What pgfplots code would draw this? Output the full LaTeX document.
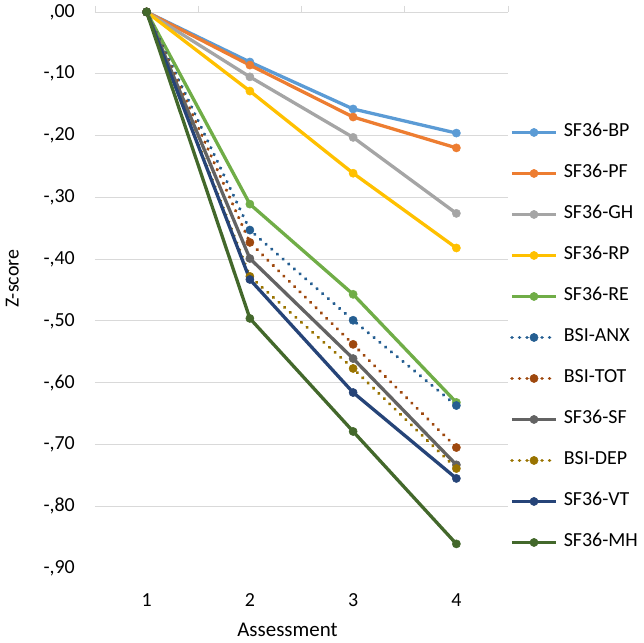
\documentclass[border=0pt]{standalone}
\usepackage{pgfplots}
\pgfplotsset{compat=1.18}
\usepackage{fontspec}
\setmainfont{Carlito}
\definecolor{gridc}{HTML}{D9D9D9}
\definecolor{cBP}{HTML}{5B9BD5}
\definecolor{cPF}{HTML}{ED7D31}
\definecolor{cGH}{HTML}{A5A5A5}
\definecolor{cRP}{HTML}{FFC000}
\definecolor{cRE}{HTML}{70AD47}
\definecolor{cANX}{HTML}{255E91}
\definecolor{cTOT}{HTML}{9E480E}
\definecolor{cSF}{HTML}{636363}
\definecolor{cDEP}{HTML}{997300}
\definecolor{cVT}{HTML}{264478}
\definecolor{cMH}{HTML}{43682B}
\newcommand{\ff}{\fontsize{20}{24}\selectfont}
\newcommand{\fl}{\fontsize{21}{25}\selectfont}
\pgfplotsset{
  ser/.style={color=#1, line width=3.3bp, mark=*, mark size=4.1bp, mark options={solid, fill=#1, draw=#1, line width=0.5bp}},
  dot/.style={ser=#1, dash pattern=on 0.01bp off 7.5bp, line cap=round, line width=3.6bp},
}
\begin{document}
\begin{tikzpicture}
\begin{axis}[
  name=ax,
  scale only axis, width=413bp, height=556bp,
  xmin=0.5, xmax=4.5, ymin=-0.9, ymax=0,
  clip=false,
  axis line style={draw=none},
  xtick={1,2,3,4}, xticklabels={1,2,3,4},
  minor xtick={0.5,1.5,2.5,3.5,4.5},
  xtick pos=upper, xticklabel pos=lower, xtick align=outside,
  major x tick style={draw=none},
  minor x tick style={draw=gridc, line width=0.8bp},
  minor tick length=6bp,
  xticklabel style={font=\ff, inner sep=0pt, yshift=-21bp},
  ytick={-0.9,-0.8,-0.7,-0.6,-0.5,-0.4,-0.3,-0.2,-0.1,0},
  yticklabels={-{,}90,-{,}80,-{,}70,-{,}60,-{,}50,-{,}40,-{,}30,-{,}20,-{,}10,{,}00},
  ytick style={draw=none},
  yticklabel style={font=\ff, inner sep=0pt, xshift=-20bp},
  grid=none,
  every axis y label/.style={at={(rel axis cs:-0.2,0.52)}, anchor=center, rotate=90, font=\ff},
  every axis x label/.style={at={(rel axis cs:0.466,-0.1115)}, anchor=center, font=\fl},
  xlabel={Assessment}, ylabel={Z-score},
  legend style={at={(1,0.4146)}, anchor=west, xshift=2bp, draw=none, fill=none, font=\ff,
    inner sep=0pt, row sep=20bp, column sep=4bp,
    nodes={inner sep=2bp, text height=13bp, text depth=4bp}},
  legend cell align=left,
  legend image code/.code={\draw[#1, mark repeat=2, mark phase=2] plot coordinates {(0bp,0bp) (22bp,0bp) (44bp,0bp)};},
]
\pgfplotsinvokeforeach{-0.8,-0.7,-0.6,-0.5,-0.4,-0.3,-0.2,-0.1,0}{
  \draw[gridc, line width=0.8bp] (axis cs:0.5,#1) -- (axis cs:4.5,#1);
}
\addplot[ser=cBP] coordinates {(1,0) (2,-0.081) (3,-0.157) (4,-0.196)};
\addlegendentry{SF36-BP}
\addplot[ser=cPF] coordinates {(1,0) (2,-0.086) (3,-0.170) (4,-0.220)};
\addlegendentry{SF36-PF}
\addplot[ser=cGH] coordinates {(1,0) (2,-0.105) (3,-0.203) (4,-0.326)};
\addlegendentry{SF36-GH}
\addplot[ser=cRP] coordinates {(1,0) (2,-0.128) (3,-0.261) (4,-0.382)};
\addlegendentry{SF36-RP}
\addplot[ser=cRE] coordinates {(1,0) (2,-0.311) (3,-0.457) (4,-0.632)};
\addlegendentry{SF36-RE}
\addplot[dot=cANX] coordinates {(1,0) (2,-0.353) (3,-0.499) (4,-0.637)};
\addlegendentry{BSI-ANX}
\addplot[dot=cTOT] coordinates {(1,0) (2,-0.373) (3,-0.538) (4,-0.705)};
\addlegendentry{BSI-TOT}
\addplot[ser=cSF] coordinates {(1,0) (2,-0.399) (3,-0.561) (4,-0.733)};
\addlegendentry{SF36-SF}
\addplot[dot=cDEP] coordinates {(1,0) (2,-0.428) (3,-0.577) (4,-0.739)};
\addlegendentry{BSI-DEP}
\addplot[ser=cVT] coordinates {(1,0) (2,-0.433) (3,-0.616) (4,-0.755)};
\addlegendentry{SF36-VT}
\addplot[ser=cMH] coordinates {(1,0) (2,-0.496) (3,-0.679) (4,-0.861)};
\addlegendentry{SF36-MH}
\end{axis}
\pgfresetboundingbox
\path (ax.south west) ++(-95bp,-75bp) coordinate (bbl);
\path (ax.north east) ++(136bp,12bp) coordinate (btr);
\path[use as bounding box] (bbl) rectangle (btr);
\end{tikzpicture}
\end{document}
